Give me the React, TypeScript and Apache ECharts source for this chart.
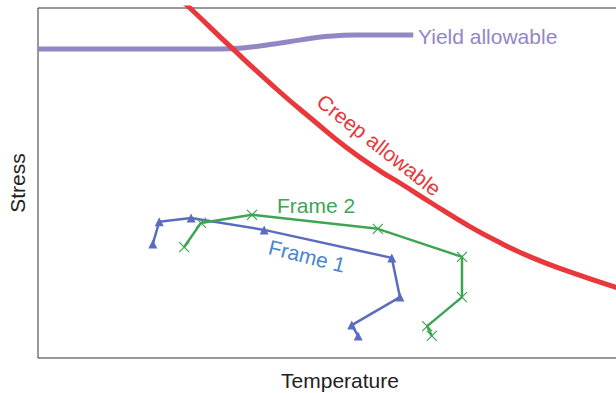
import React, { useEffect, useRef } from "react";
import * as echarts from "echarts";

// Arbitrary units: temperature 0-100, stress 0-100
const yieldT = [0, 31.4, 36.0, 40.7, 45.3, 50.0, 54.7, 64.7];
const yieldS = [88.3, 88.3, 88.7, 89.7, 90.9, 91.9, 92.3, 92.3];

const creepT = [24.1, 26.2, 33.6, 41.7, 47.4, 53.3, 59.0, 62.4, 68.1, 74.0, 79.7, 85.3, 91.2, 100];
const creepS = [103.1, 100.0, 88.3, 76.0, 68.0, 60.0, 53.4, 50.0, 44.0, 38.0, 32.9, 28.6, 24.9, 20.0];

const frame1T = [19.8, 20.9, 26.4, 39.0, 61.0, 62.4, 54.1, 55.2];
const frame1S = [32.6, 38.9, 40.0, 36.6, 28.6, 17.4, 9.4, 6.3];

const frame2T = [25.2, 28.1, 36.9, 58.6, 73.1, 73.1, 67.1, 67.9];
const frame2S = [31.7, 38.6, 40.9, 36.9, 28.9, 17.4, 9.1, 6.3];

const pairs = (xs: number[], ys: number[]) => xs.map((x, i) => [x, ys[i]]);

const FONT = "Liberation Sans, Arial, Helvetica, sans-serif";
const PURPLE = "#9486c4";
const RED = "#e8383b";
const BLUE = "#5b6cbf";
const BLUE_TXT = "#4a86cc";
const GREEN = "#3ea552";
const FS = 21;

export default function App() {
  const ref = useRef<HTMLDivElement>(null);
  useEffect(() => {
    if (!ref.current) return;
    const chart = echarts.init(ref.current, null, { renderer: "svg" });
    chart.setOption({
      animation: false,
      grid: {
        left: 38,
        top: 8,
        right: -2,
        bottom: 35,
        show: true,
        borderColor: "#333",
        borderWidth: 1,
        outerBoundsMode: "none",
        containLabel: false,
      },
      xAxis: {
        type: "value",
        min: 0,
        max: 100,
        axisLine: { show: false },
        axisTick: { show: false },
        axisLabel: { show: false },
        splitLine: { show: false },
      },
      yAxis: {
        type: "value",
        min: 0,
        max: 100,
        axisLine: { show: false },
        axisTick: { show: false },
        axisLabel: { show: false },
        splitLine: { show: false },
        name: "Stress",
        nameLocation: "middle",
        nameGap: 10,
        nameTextStyle: { fontSize: FS, color: "#222", fontFamily: FONT },
      },
      series: [
        {
          name: "Yield allowable",
          type: "line",
          data: pairs(yieldT, yieldS),
          smooth: 0.5,
          showSymbol: false,
          symbol: "none",
          lineStyle: { color: PURPLE, width: 5 },
          clip: false,
        },
        {
          name: "Creep allowable",
          type: "line",
          data: pairs(creepT, creepS),
          smooth: 0.5,
          showSymbol: false,
          symbol: "none",
          lineStyle: { color: RED, width: 5 },
          clip: true,
        },
        {
          name: "Frame 1",
          type: "line",
          data: pairs(frame1T, frame1S),
          symbol: "triangle",
          symbolSize: 9,
          itemStyle: { color: BLUE },
          lineStyle: { color: BLUE, width: 2.5 },
        },
        {
          name: "Frame 2",
          type: "line",
          data: pairs(frame2T, frame2S),
          symbol: "path://M0,0L10,10M10,0L0,10",
          symbolSize: 10,
          itemStyle: { color: "none", borderColor: GREEN, borderWidth: 1.2 },
          lineStyle: { color: GREEN, width: 2.5 },
        },
      ],
      graphic: [
        {
          type: "text",
          x: 340,
          y: 380,
          style: {
            text: "Temperature",
            fill: "#222",
            font: `${FS}px ${FONT}`,
            verticalAlign: "middle",
            align: "center",
          },
        },
        {
          type: "text",
          x: 418,
          y: 36,
          style: {
            text: "Yield allowable",
            fill: PURPLE,
            font: `${FS}px ${FONT}`,
            verticalAlign: "middle",
            align: "left",
          },
        },
        {
          type: "text",
          x: 379,
          y: 145,
          rotation: (-38 * Math.PI) / 180,
          style: {
            text: "Creep allowable",
            fill: RED,
            font: `${FS}px ${FONT}`,
            verticalAlign: "middle",
            align: "center",
          },
        },
        {
          type: "text",
          x: 316,
          y: 205,
          style: {
            text: "Frame 2",
            fill: GREEN,
            font: `${FS}px ${FONT}`,
            verticalAlign: "middle",
            align: "center",
          },
        },
        {
          type: "text",
          x: 307,
          y: 256,
          rotation: (-14 * Math.PI) / 180,
          style: {
            text: "Frame 1",
            fill: BLUE_TXT,
            font: `${FS}px ${FONT}`,
            verticalAlign: "middle",
            align: "center",
          },
        },
      ],
    });
    return () => chart.dispose();
  }, []);
  return <div ref={ref} style={{ width: 616, height: 393, position: "absolute", left: 0, top: 0 }} />;
}
